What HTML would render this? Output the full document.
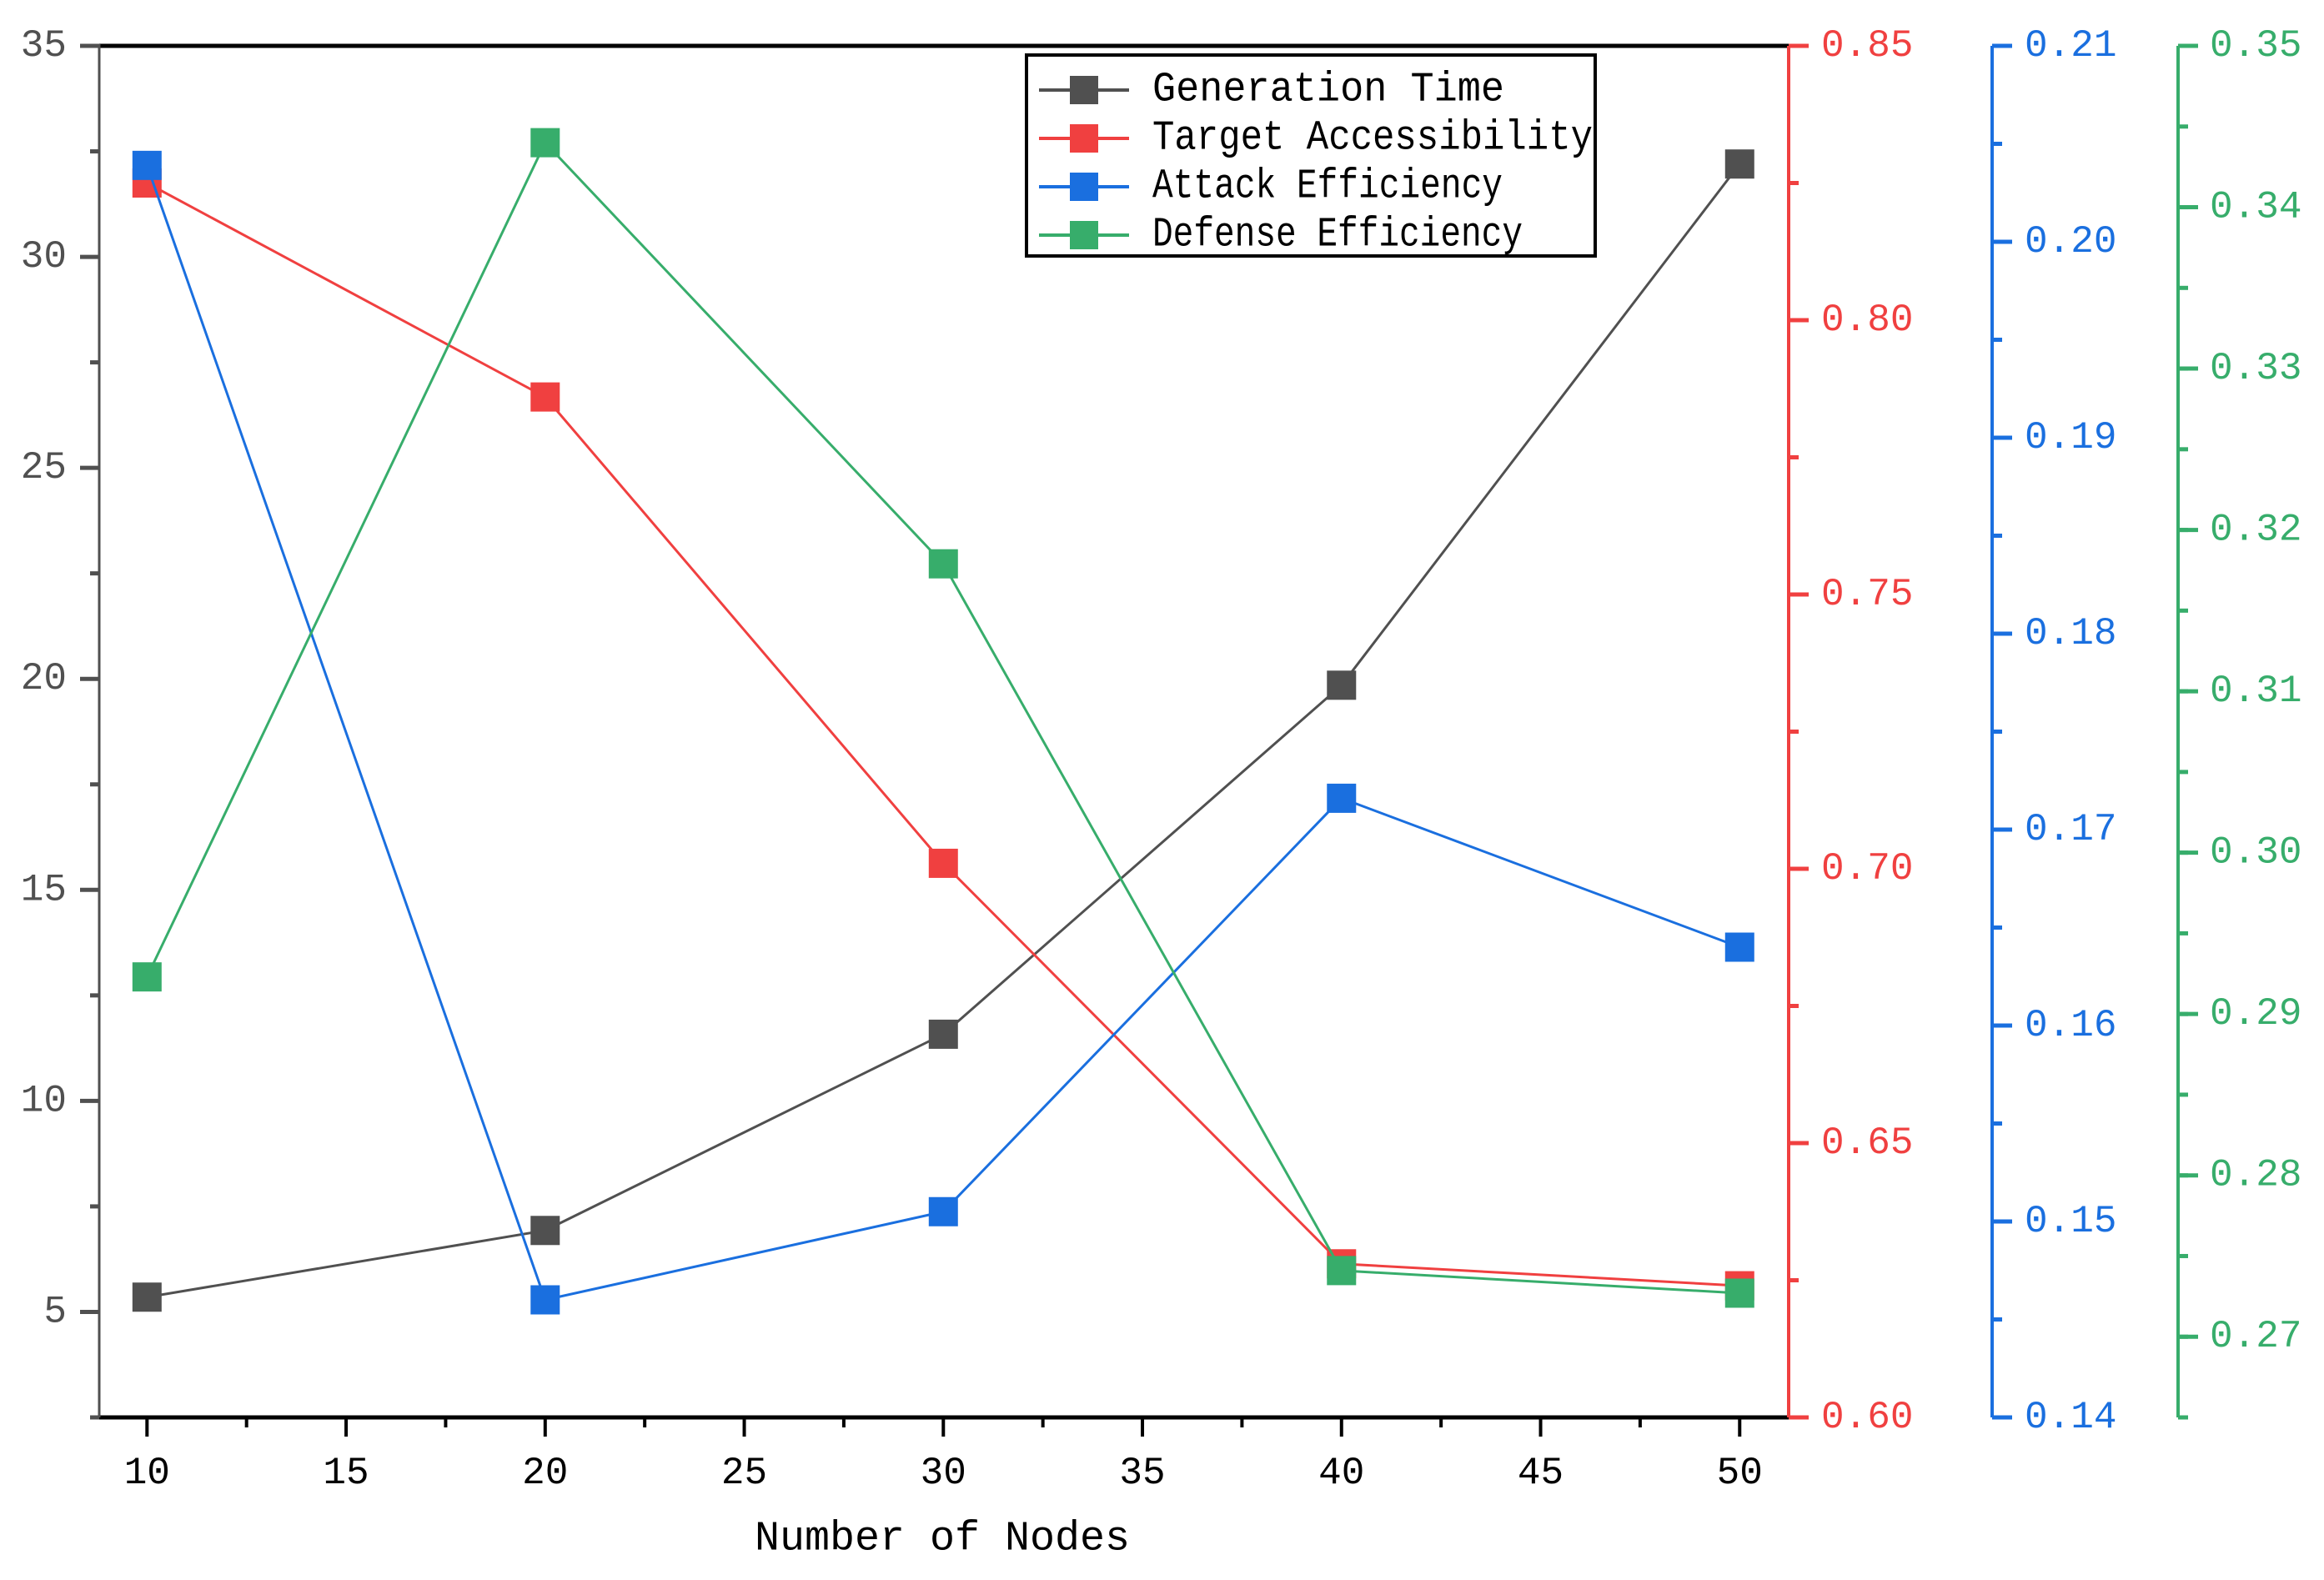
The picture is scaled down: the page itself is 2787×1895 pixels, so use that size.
<!DOCTYPE html>
<html><head><meta charset="utf-8">
<style>
html,body{margin:0;padding:0;background:#fff;}
svg{display:block;}
text{font-family:"Liberation Mono","WenQuanYi Zen Hei",monospace;}
</style></head>
<body>
<svg id="chart" width="2787" height="1895" viewBox="0 0 2787 1895" xmlns="http://www.w3.org/2000/svg"></svg>
<script>
const categories = [10, 20, 30, 40, 50];
const generationTime = [5.35, 6.93, 11.58, 19.85, 32.2];
const targetAccessibility = [0.825, 0.786, 0.701, 0.628, 0.624];
const attackEfficiency = [0.2039, 0.146, 0.1505, 0.1716, 0.164];
const defenseEfficiency = [0.2923, 0.344, 0.3179, 0.2741, 0.2727];
const xTicks = [10, 15, 20, 25, 30, 35, 40, 45, 50];
const leftTicks = [5, 10, 15, 20, 25, 30, 35];
const redTicks = ["0.60","0.65","0.70","0.75","0.80","0.85"];
const blueTicks = ["0.14","0.15","0.16","0.17","0.18","0.19","0.20","0.21"];
const greenTicks = ["0.27","0.28","0.29","0.30","0.31","0.32","0.33","0.34","0.35"];
const legendLabels = ["Generation Time","Target Accessibility","Attack Efficiency","Defense Efficiency"];

const svg = document.getElementById('chart');
const NS = 'http://www.w3.org/2000/svg';
const PL = 119, PR = 2145, PT = 55, PB = 1700;
const x = v => PL + (v - 8.8) / (51.23 - 8.8) * (PR - PL);
const yL = v => PB - (v - 2.5) / (35 - 2.5) * (PB - PT);
const yR = v => PB - (v - 0.60) / 0.25 * (PB - PT);
const yB = v => PB - (v - 0.14) / 0.07 * (PB - PT);
const yG = v => PB - (v - 0.265) / 0.085 * (PB - PT);
const C = {dark:'#505050', red:'#f04040', blue:'#1a6fdf', green:'#37ad6b'};

function mk(tag, attrs, parent){ const e=document.createElementNS(NS,tag); for(const k in attrs) e.setAttribute(k,attrs[k]); (parent||svg).appendChild(e); return e; }
function line(x1,y1,x2,y2,c,w,p){ return mk('line',{x1,y1,x2,y2,stroke:c,'stroke-width':w},p); }
function txt(s,xx,yy,c,size,anchor,p){ const t=mk('text',{x:xx,y:yy,fill:c,'font-size':size,'text-anchor':anchor||'start','dominant-baseline':'central'},p); t.textContent=s; return t; }

const axes = mk('g',{});


line(PL,PT,PR,PT,'#000',5,axes);
line(PL-4,PB,PR,PB,'#000',5,axes);
line(PL,PT-2,PL,PB,C.dark,3,axes);
for(let v=2.5; v<=35.01; v+=2.5){ const major = Math.abs(v%5)<0.01; line(PL-(major?23:11),yL(v),PL,yL(v),C.dark,5,axes); }
leftTicks.forEach(v=>{ const t=txt(String(v),80,yL(v),C.dark,46,'end',axes);   });
for(let v=10; v<=50; v+=2.5){ const major = v%5===0; line(x(v),PB,x(v),PB+(major?23:12),'#000',4,axes); }
xTicks.forEach(v=>{ const t=txt(String(v),x(v),1767,'#000',46,'middle',axes);   });
const xt = txt('Number of Nodes',1130,1846,'#000',50,'middle',axes);



function rightAxis(ax, col, labels, yf, minorStep, lx, name){
  const g = mk('g',{});
  
  
  line(ax,PT,ax,PB,col,4,g);
  const vals = labels.map(Number);
  const lo = yf === yG ? 0.265 : vals[0];
  const hi = vals[vals.length-1];
  for(let v=lo; v<=hi+1e-9; v+=minorStep){ line(ax,yf(v),ax+12,yf(v),col,5,g); }
  vals.forEach((v,i)=>{ line(ax,yf(v),ax+24,yf(v),col,5,g); const t=txt(labels[i],lx,yf(v),col,46,'start',g);   });
}
rightAxis(2145, C.red, redTicks, yR, 0.025, 2184, 'accessibility-axis');
rightAxis(2389, C.blue, blueTicks, yB, 0.005, 2428, 'attack-axis');
rightAxis(2612, C.green, greenTicks, yG, 0.005, 2650, 'defense-axis');

function series(vals, yf, col, name){
  const g = mk('g',{});
  
  
  const pts = vals.map((v,i)=>x(categories[i])+','+yf(v)).join(' ');
  mk('polyline',{points:pts,fill:'none',stroke:col,'stroke-width':3},g);
  vals.forEach((v,i)=>{
    const r = mk('rect',{x:x(categories[i])-17.5,y:yf(v)-17.5,width:35,height:35,fill:col},g);
    
    
  });
}
series(generationTime, yL, C.dark, 'generation-time');
series(targetAccessibility, yR, C.red, 'target-accessibility');
series(attackEfficiency, yB, C.blue, 'attack-efficiency');
series(defenseEfficiency, yG, C.green, 'defense-efficiency');

const lg = mk('g',{});


mk('rect',{x:1231,y:66,width:682,height:241,fill:'#fff',stroke:'#000','stroke-width':4},lg);
const lcols=[C.dark,C.red,C.blue,C.green];
const lws=[422,528,420,444];
legendLabels.forEach((s,i)=>{
  const yy = 108 + i*58;
  const e = mk('g',{},lg);
  
  
  line(1246,yy,1354,yy,lcols[i],4,e);
  mk('rect',{x:1283,y:yy-17,width:34,height:34,fill:lcols[i]},e);
  const t = txt(s,1382,yy,'#000',50,'start',e);
  t.setAttribute('textLength',lws[i]);
  t.setAttribute('lengthAdjust','spacingAndGlyphs');
});
</script>
</body></html>
